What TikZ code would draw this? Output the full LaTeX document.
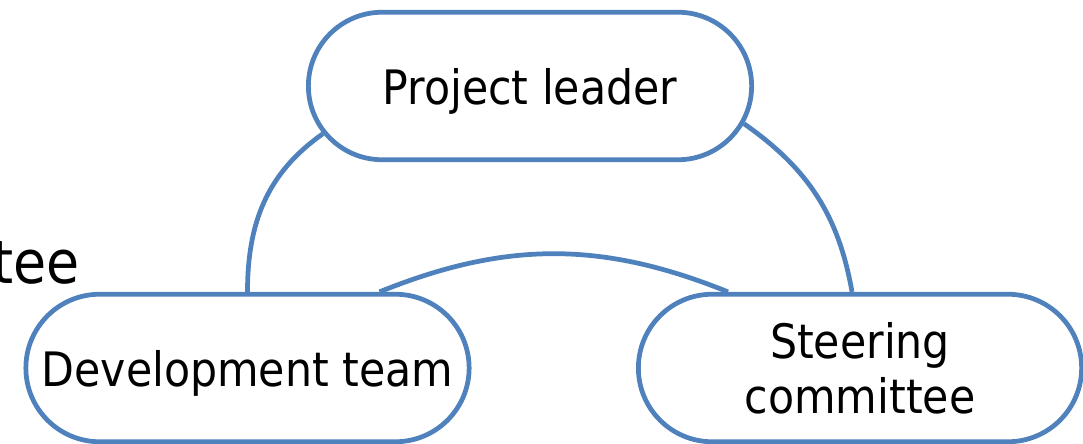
\documentclass[tikz,border=0pt]{standalone}
\usepackage{fontspec}
\setmainfont{DejaVu Sans Condensed}
\usepackage{tikz}
\usetikzlibrary{shapes.misc}

\definecolor{roleblue}{RGB}{79,129,189}

\begin{document}
\begin{tikzpicture}[
    role/.style={rounded rectangle, draw=roleblue, line width=2.7pt, fill=white,
      minimum width=9.1cm, minimum height=2.95cm, align=center, text depth=0pt,
      font=\fontsize{27}{31.3}\selectfont},
    link/.style={draw=roleblue, line width=2.7pt}]
    \useasboundingbox (0,0) rectangle (21.66,8.86);% Fixes the page size

    \coordinate (LeaderPos) at (10.6,7.14);
    \coordinate (DevPos)    at (4.95,1.50);
    \coordinate (SteerPos)  at (17.2,1.50);

    \node[anchor=base east, inner sep=0pt, font=\fontsize{34}{40}\selectfont] (spill) at (1.6,3.2) {tee};% Cut off word at the edge

    \node[role] (leader)   at (LeaderPos) {Project leader};
    \node[role] (devteam)  at (DevPos)    {Development team};
    \node[role] (steering) at (SteerPos)  {Steering\\committee};

    % Links between the three roles
    \draw[link] (leader.193) to[out=215,in=90] (devteam.north);
    \draw[link] (leader.350) to[out=-35,in=100] ([xshift=-0.16cm]steering.north);
    \draw[link] ([xshift=2.64cm]devteam.north) to[out=22,in=158] ([xshift=-2.64cm]steering.north);
\end{tikzpicture}
\end{document}
